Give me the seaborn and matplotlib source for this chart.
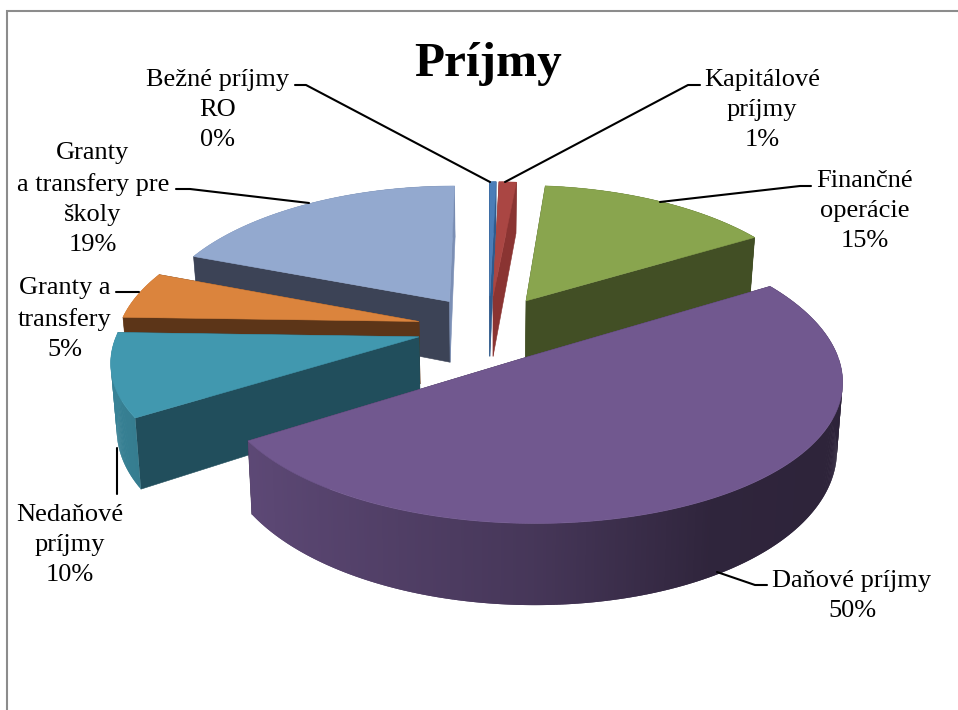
import numpy as np
import seaborn as sns
import matplotlib.pyplot as plt
from matplotlib.colors import to_rgb

# Data
categories = ["Bežné príjmy\nRO", "Kapitálové\npríjmy", "Finančné\noperácie", "Daňové príjmy",
              "Nedaňové\npríjmy", "Granty a\ntransfery", "Granty\na transfery pre\nškoly"]
values = [0.4, 1.1, 14.8, 49.6, 9.6, 5.4, 19.1]

# Colours per slice
top_colors = ["#4a7db8", "#aa4643", "#89a54e", "#71588f", "#4198af", "#db843d", "#93a9cf"]
cut_start_colors = ["#2f5a8c", "#8a3432", "#424f25", "#3a2d4a", "#214e5c", "#5c3518", "#3c4356"]
cut_end_colors = ["#2f5a8c", "#8a3432", "#424f25", "#3a2d4a", "#214e5c", "#5c3518", "#7b8fb5"]

# Drawing order, back to front
draw_order = [0, 1, 6, 2, 5, 4, 3]

# Label placement (centre of text block) and leader lines
label_xy = [(218, 110), (762, 110), (865, 211), (852, 596), (70, 545), (65, 319), (93, 199)]
leaders = [
    [(295, 85), (306, 85), (490, 182)],
    [(700, 85), (688, 85), (505, 182)],
    [(811, 186), (800, 186), (660, 202)],
    [(767, 585), (755, 585), (717, 572)],
    [(117, 448), (117, 494)],
    [(116, 292), (139, 292)],
    [(176, 189), (190, 189), (309, 203)],
]

# Pie geometry in pixel-like axes units
CX, CY = 489, 328
A, B = 300, 137
PERSP_X, PERSP_Y = 0.15, 0.13
DEPTH, DEPTH_PERSP = 63, 0.19
EXPLODE = 0.24
BOTTOM_SHRINK = 0.984


def project(u, v, bottom=False):
    x = CX + A * u / (1 + PERSP_X * v)
    y = CY - B * v / (1 + PERSP_Y * v)
    if bottom:
        x = CX + (x - CX) * BOTTOM_SHRINK
        y = y + DEPTH / (1 + DEPTH_PERSP * v)
    return x, y


def rim_shade(theta):
    # light from the left, rim gets darker towards the right
    return np.interp(np.sin(theta), [-1, 0, 0.5, 1], [0.86, 0.62, 0.42, 0.40])


def draw_quad(ax, pts, color, lw=0.4):
    xs, ys = zip(*pts)
    ax.fill(xs, ys, facecolor=color, edgecolor=color, linewidth=lw)


def draw_rim(ax, ox, oy, angles, color):
    base = np.array(to_rgb(color))
    # each piece runs over into the next one so no seams show
    for k, t0 in enumerate(angles[:-1]):
        t1 = angles[min(k + 2, len(angles) - 1)]
        pts = [
            project(ox + np.sin(t0), oy + np.cos(t0)),
            project(ox + np.sin(t1), oy + np.cos(t1)),
            project(ox + np.sin(t1), oy + np.cos(t1), True),
            project(ox + np.sin(t0), oy + np.cos(t0), True),
        ]
        draw_quad(ax, pts, tuple(base * rim_shade(t0)), lw=0)


def draw_slice(ax, start, end, top, cut_start, cut_end):
    mid = (start + end) / 2
    ox, oy = EXPLODE * np.sin(mid), EXPLODE * np.cos(mid)
    angles = np.linspace(start, end, max(int((end - start) * 120), 3))

    back = angles[np.cos(angles) > 0]
    front = angles[np.cos(angles) <= 0]
    if len(back) > 1:
        draw_rim(ax, ox, oy, back, top)

    # the two cut faces
    for ang, col in ((start, cut_start), (end, cut_end)):
        edge = (ox + np.sin(ang), oy + np.cos(ang))
        draw_quad(ax, [project(ox, oy), project(*edge), project(*edge, True), project(ox, oy, True)], col)

    if len(front) > 1:
        draw_rim(ax, ox, oy, front, top)

    # top surface
    outline = [project(ox, oy)] + [project(ox + np.sin(t), oy + np.cos(t)) for t in angles]
    draw_quad(ax, outline, top)


sns.set_theme(style="white")
plt.rcParams['font.family'] = ['Liberation Serif', 'DejaVu Serif']

fig = plt.figure(figsize=(9.58, 7.10), dpi=100)
ax = fig.add_axes([0, 0, 1, 1])
ax.set_xlim(0, 958)
ax.set_ylim(710, 0)
ax.axis("off")

# Chart frame, cropped at right and bottom
ax.plot([7.5, 7.5, 958], [710, 10.5, 10.5], color="#8c8c8c", linewidth=1.5, solid_joinstyle="miter")

palette = sns.color_palette(top_colors)
shares = np.array(values) / np.sum(values)
edges = np.concatenate([[0], np.cumsum(shares)]) * 2 * np.pi

for i in draw_order:
    draw_slice(ax, edges[i], edges[i + 1], palette[i], cut_start_colors[i], cut_end_colors[i])

for name, share, (lx, ly), line in zip(categories, shares, label_xy, leaders):
    ax.text(lx, ly, f"{name}\n{share * 100:.0f}%", ha="center", va="center", fontsize=19,
            color="black", linespacing=1.48)
    xs, ys = zip(*line)
    ax.plot(xs, ys, color="black", linewidth=1.5)

ax.text(488, 64, "Príjmy", ha="center", va="center", fontsize=35.5, fontweight="bold", color="black")

fig.savefig("out.png", dpi=100)
